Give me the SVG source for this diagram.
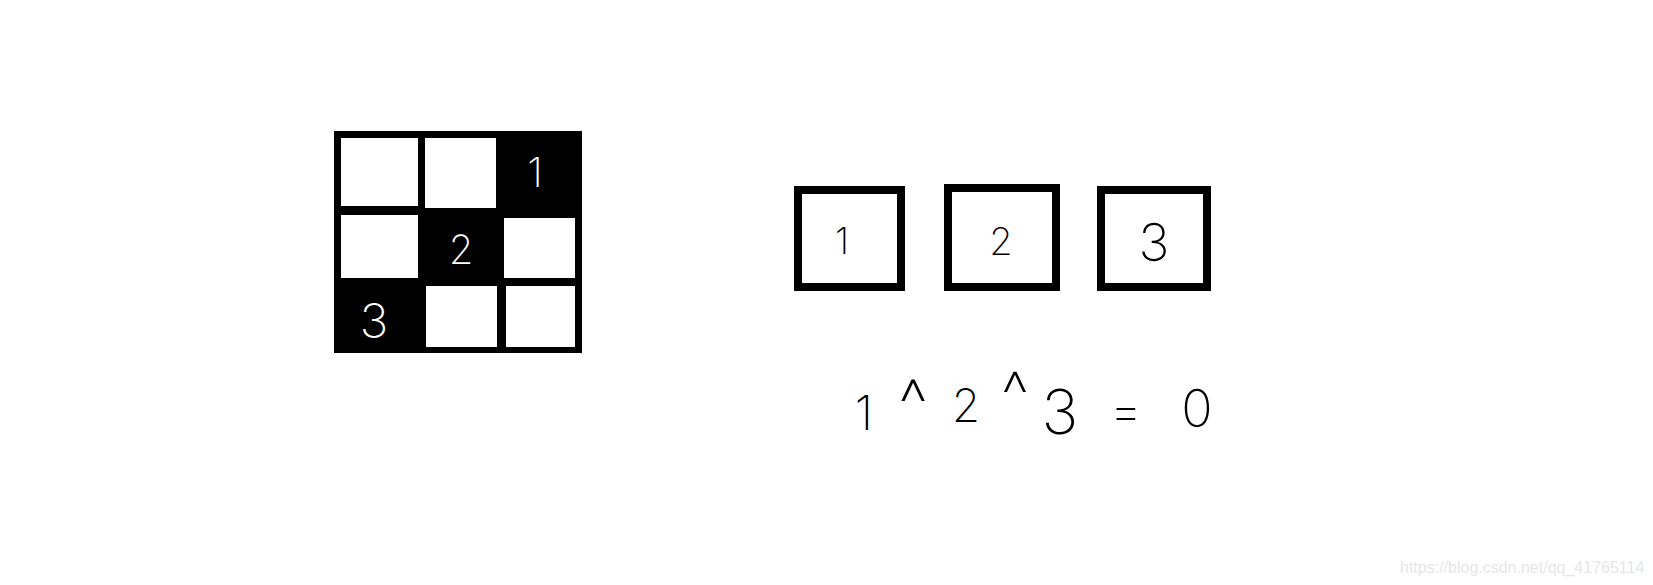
<svg xmlns="http://www.w3.org/2000/svg" width="1653" height="585" viewBox="0 0 1653 585">
<style>
.h{font-family:Inter,"DejaVu Sans",sans-serif;font-weight:200;text-anchor:middle}
.w{fill:#ffffff}
.k{fill:#000000}
.box{fill:#ffffff;stroke:#000000;stroke-width:8}
.cell{fill:#ffffff}
</style>
<rect width="1653" height="585" fill="#ffffff"/>
<g id="grid">
<rect x="334" y="131" width="248" height="222" fill="#000000"/>
<rect class="cell" x="341" y="138" width="77" height="68"/>
<rect class="cell" x="425" y="138" width="71" height="70"/>
<rect class="cell" x="341" y="215" width="77" height="63"/>
<rect class="cell" x="504" y="218" width="71" height="60"/>
<rect class="cell" x="426" y="286" width="71" height="61"/>
<rect class="cell" x="506" y="286" width="69" height="61"/>
<text class="h w" x="535" y="187" font-size="41">1</text>
<text class="h w" x="461" y="264" font-size="40">2</text>
<text class="h w" x="374" y="338" font-size="48">3</text>
</g>
<g id="box1">
<rect class="box" x="798" y="190" width="103" height="97"/>
<text class="h k" x="842" y="254" font-size="37">1</text>
</g>
<g id="box2">
<rect class="box" x="948" y="188" width="108" height="99"/>
<text class="h k" x="1001" y="255" font-size="38">2</text>
</g>
<g id="box3">
<rect class="box" x="1101" y="190" width="106" height="97"/>
<text class="h k" x="1154" y="261" font-size="52">3</text>
</g>
<g id="connectors"></g>
<g id="equation">
<text class="h k" x="864" y="430" font-size="48">1</text>
<text class="h k" x="913" y="429" font-size="70">^</text>
<text class="h k" x="966" y="422" font-size="46">2</text>
<text class="h k" x="1015" y="418" font-size="66">^</text>
<text class="h k" x="1060" y="434" font-size="62">3</text>
<text class="h k" x="1126" y="428" font-size="50">=</text>
<text class="h k" x="1197" y="427" font-size="52">0</text>
</g>
<g id="watermark">
<text x="1400" y="573" font-family="Liberation Sans,Arial,sans-serif" font-size="16" fill="#e6e6e6">https://blog.csdn.net/qq_41765114</text>
</g>
</svg>
